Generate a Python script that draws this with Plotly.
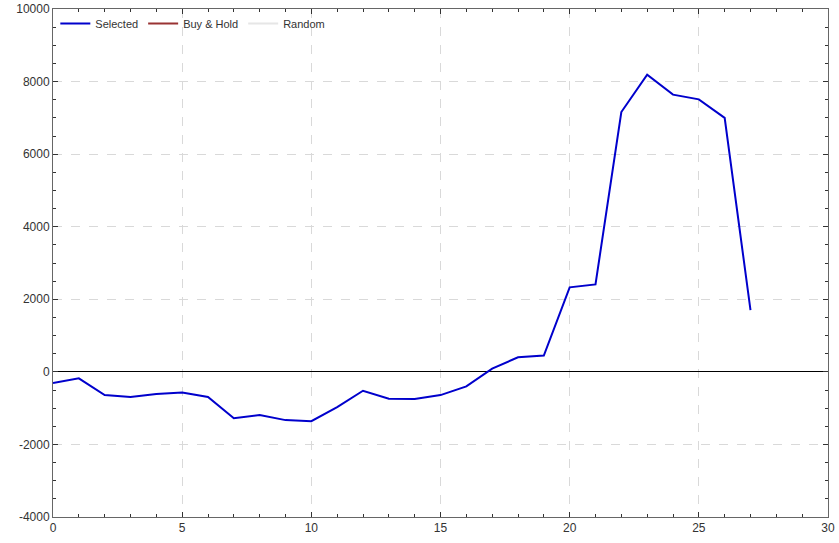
#%%
import plotly.graph_objects as go

# Data
periods = list(range(28))
selected = [-310, -180, -640, -690, -610, -570, -690, -1280, -1190, -1330,
            -1360, -970, -520, -740, -750, -640, -400, 90, 400, 450,
            2330, 2410, 7160, 8190, 7640, 7510, 7000, 1700]
buy_hold = []
random_vals = []

x_ticks = [0, 5, 10, 15, 20, 25, 30]
y_ticks = [-4000, -2000, 0, 2000, 4000, 6000, 8000, 10000]
y_labels = ['-4000', '-2000', '0', '2000', '4000', '6000', '8000', '10000']

fig = go.Figure()
fig.add_trace(go.Scatter(x=periods, y=selected, mode='lines', name='Selected',
                         line=dict(color='#0000cc', width=2)))
fig.add_trace(go.Scatter(x=[None], y=[None], mode='lines', name='Buy & Hold',
                         line=dict(color='#993333', width=2)))
fig.add_trace(go.Scatter(x=[None], y=[None], mode='lines', name='Random',
                         line=dict(color='#e6e6e6', width=2)))

axis_style = dict(
    showline=True, mirror='ticks', linecolor='#666666', linewidth=1,
    ticks='inside', ticklen=5, tickcolor='#333333', automargin=False,
    showgrid=True, gridcolor='#d9d9d9', griddash='dash', gridwidth=1,
    tickfont=dict(family='Liberation Sans, Arial', size=12, color='#333333'),
)

fig.update_xaxes(range=[0, 30], tickvals=x_ticks, zeroline=False,
                 minor=dict(dtick=1, ticks='inside', ticklen=3, tickcolor='#333333', showgrid=False),
                 **axis_style)
fig.update_yaxes(range=[-4000, 10000], tickvals=y_ticks, ticktext=y_labels,
                 zeroline=True, zerolinecolor='black', zerolinewidth=1,
                 minor=dict(dtick=500, ticks='inside', ticklen=3, tickcolor='#333333', showgrid=False),
                 **axis_style)

fig.update_layout(
    width=839, height=543,
    plot_bgcolor='white', paper_bgcolor='white',
    margin=dict(l=53, r=11, t=9, b=26),
    showlegend=True,
    legend=dict(orientation='h', x=0.003, y=1, xanchor='left', yanchor='top',
                bgcolor='rgba(0,0,0,0)', font=dict(family='Liberation Sans, Arial', size=11, color='#333333'),
                itemwidth=30),
)

# drop the default page margin so the figure sits at the top-left corner
fig.write_html("out.html", config={'displayModeBar': False},
               post_script="document.body.style.margin='0px';")
